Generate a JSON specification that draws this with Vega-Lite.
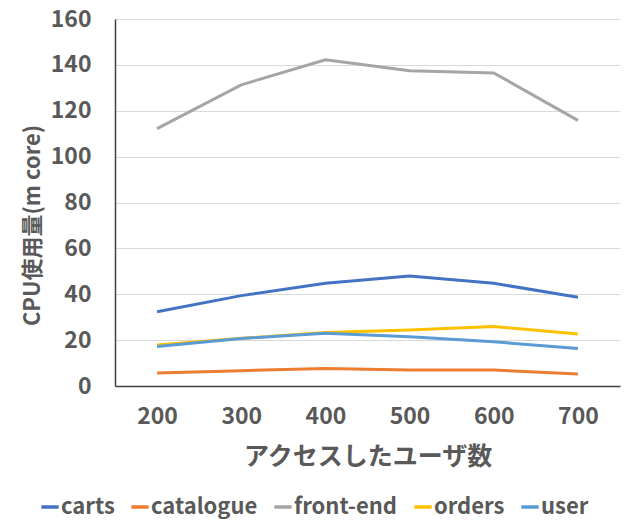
{
  "$schema": "https://vega.github.io/schema/vega-lite/v6.json",
  "width": 505,
  "height": 367,
  "autosize": "none",
  "padding": {"left": 115, "top": 19, "right": 12, "bottom": 134},
  "background": "white",
  "data": {
    "values": [
      {"users": "200", "service": "carts", "cpu": 32.4},
      {"users": "300", "service": "carts", "cpu": 39.4},
      {"users": "400", "service": "carts", "cpu": 44.8},
      {"users": "500", "service": "carts", "cpu": 47.9},
      {"users": "600", "service": "carts", "cpu": 44.8},
      {"users": "700", "service": "carts", "cpu": 38.7},
      {"users": "200", "service": "catalogue", "cpu": 5.7},
      {"users": "300", "service": "catalogue", "cpu": 6.7},
      {"users": "400", "service": "catalogue", "cpu": 7.6},
      {"users": "500", "service": "catalogue", "cpu": 7.0},
      {"users": "600", "service": "catalogue", "cpu": 7.0},
      {"users": "700", "service": "catalogue", "cpu": 5.2},
      {"users": "200", "service": "front-end", "cpu": 112.2},
      {"users": "300", "service": "front-end", "cpu": 131.3},
      {"users": "400", "service": "front-end", "cpu": 142.2},
      {"users": "500", "service": "front-end", "cpu": 137.4},
      {"users": "600", "service": "front-end", "cpu": 136.5},
      {"users": "700", "service": "front-end", "cpu": 115.8},
      {"users": "200", "service": "orders", "cpu": 17.9},
      {"users": "300", "service": "orders", "cpu": 20.8},
      {"users": "400", "service": "orders", "cpu": 23.3},
      {"users": "500", "service": "orders", "cpu": 24.4},
      {"users": "600", "service": "orders", "cpu": 25.9},
      {"users": "700", "service": "orders", "cpu": 22.7},
      {"users": "200", "service": "user", "cpu": 17.2},
      {"users": "300", "service": "user", "cpu": 20.7},
      {"users": "400", "service": "user", "cpu": 23.0},
      {"users": "500", "service": "user", "cpu": 21.5},
      {"users": "600", "service": "user", "cpu": 19.3},
      {"users": "700", "service": "user", "cpu": 16.3}
    ]
  },
  "config": {
    "font": "Noto Sans CJK JP",
    "view": {"stroke": null},
    "axis": {
      "labelFont": "Noto Sans CJK JP",
      "labelFontSize": 23,
      "labelFontWeight": "bold",
      "labelColor": "#595959",
      "titleFont": "Noto Sans CJK JP",
      "titleFontSize": 22,
      "titleFontWeight": "bold",
      "titleColor": "#595959",
      "ticks": false,
      "domainColor": "#404040",
      "domainWidth": 1.5,
      "gridColor": "#D9D9D9",
      "gridWidth": 1.2
    },
    "legend": {
      "labelFont": "Noto Sans CJK JP",
      "labelFontSize": 22,
      "labelFontWeight": "bold",
      "labelColor": "#595959"
    }
  },
  "mark": {"type": "line", "strokeWidth": 3},
  "encoding": {
    "x": {
      "field": "users",
      "type": "ordinal",
      "scale": {"type": "point", "padding": 0.5},
      "axis": {
        "title": "アクセスしたユーザ数",
        "titleFontSize": 25,
        "labelAngle": 0,
        "labelPadding": 19,
        "grid": false,
        "titleY": 70,
        "titleBaseline": "middle"
      }
    },
    "y": {
      "field": "cpu",
      "type": "quantitative",
      "scale": {"domain": [0, 160], "nice": false},
      "axis": {
        "title": "CPU使用量(m core)",
        "values": [0, 20, 40, 60, 80, 100, 120, 140, 160],
        "labelPadding": 24,
        "titleX": -83,
        "titleY": 206,
        "titleAngle": -90,
        "titleBaseline": "middle",
        "titleAlign": "center"
      }
    },
    "color": {
      "field": "service",
      "type": "nominal",
      "scale": {
        "domain": ["carts", "catalogue", "front-end", "orders", "user"],
        "range": ["#4472C4", "#ED7D31", "#A5A5A5", "#FFC000", "#5B9BD5"]
      },
      "legend": {
        "title": null,
        "orient": "none",
        "direction": "horizontal",
        "legendX": -76,
        "legendY": 477,
        "symbolType": "stroke",
        "symbolSize": 300,
        "symbolStrokeWidth": 3.5,
        "labelOffset": 0,
        "columnPadding": 9
      }
    }
  }
}
